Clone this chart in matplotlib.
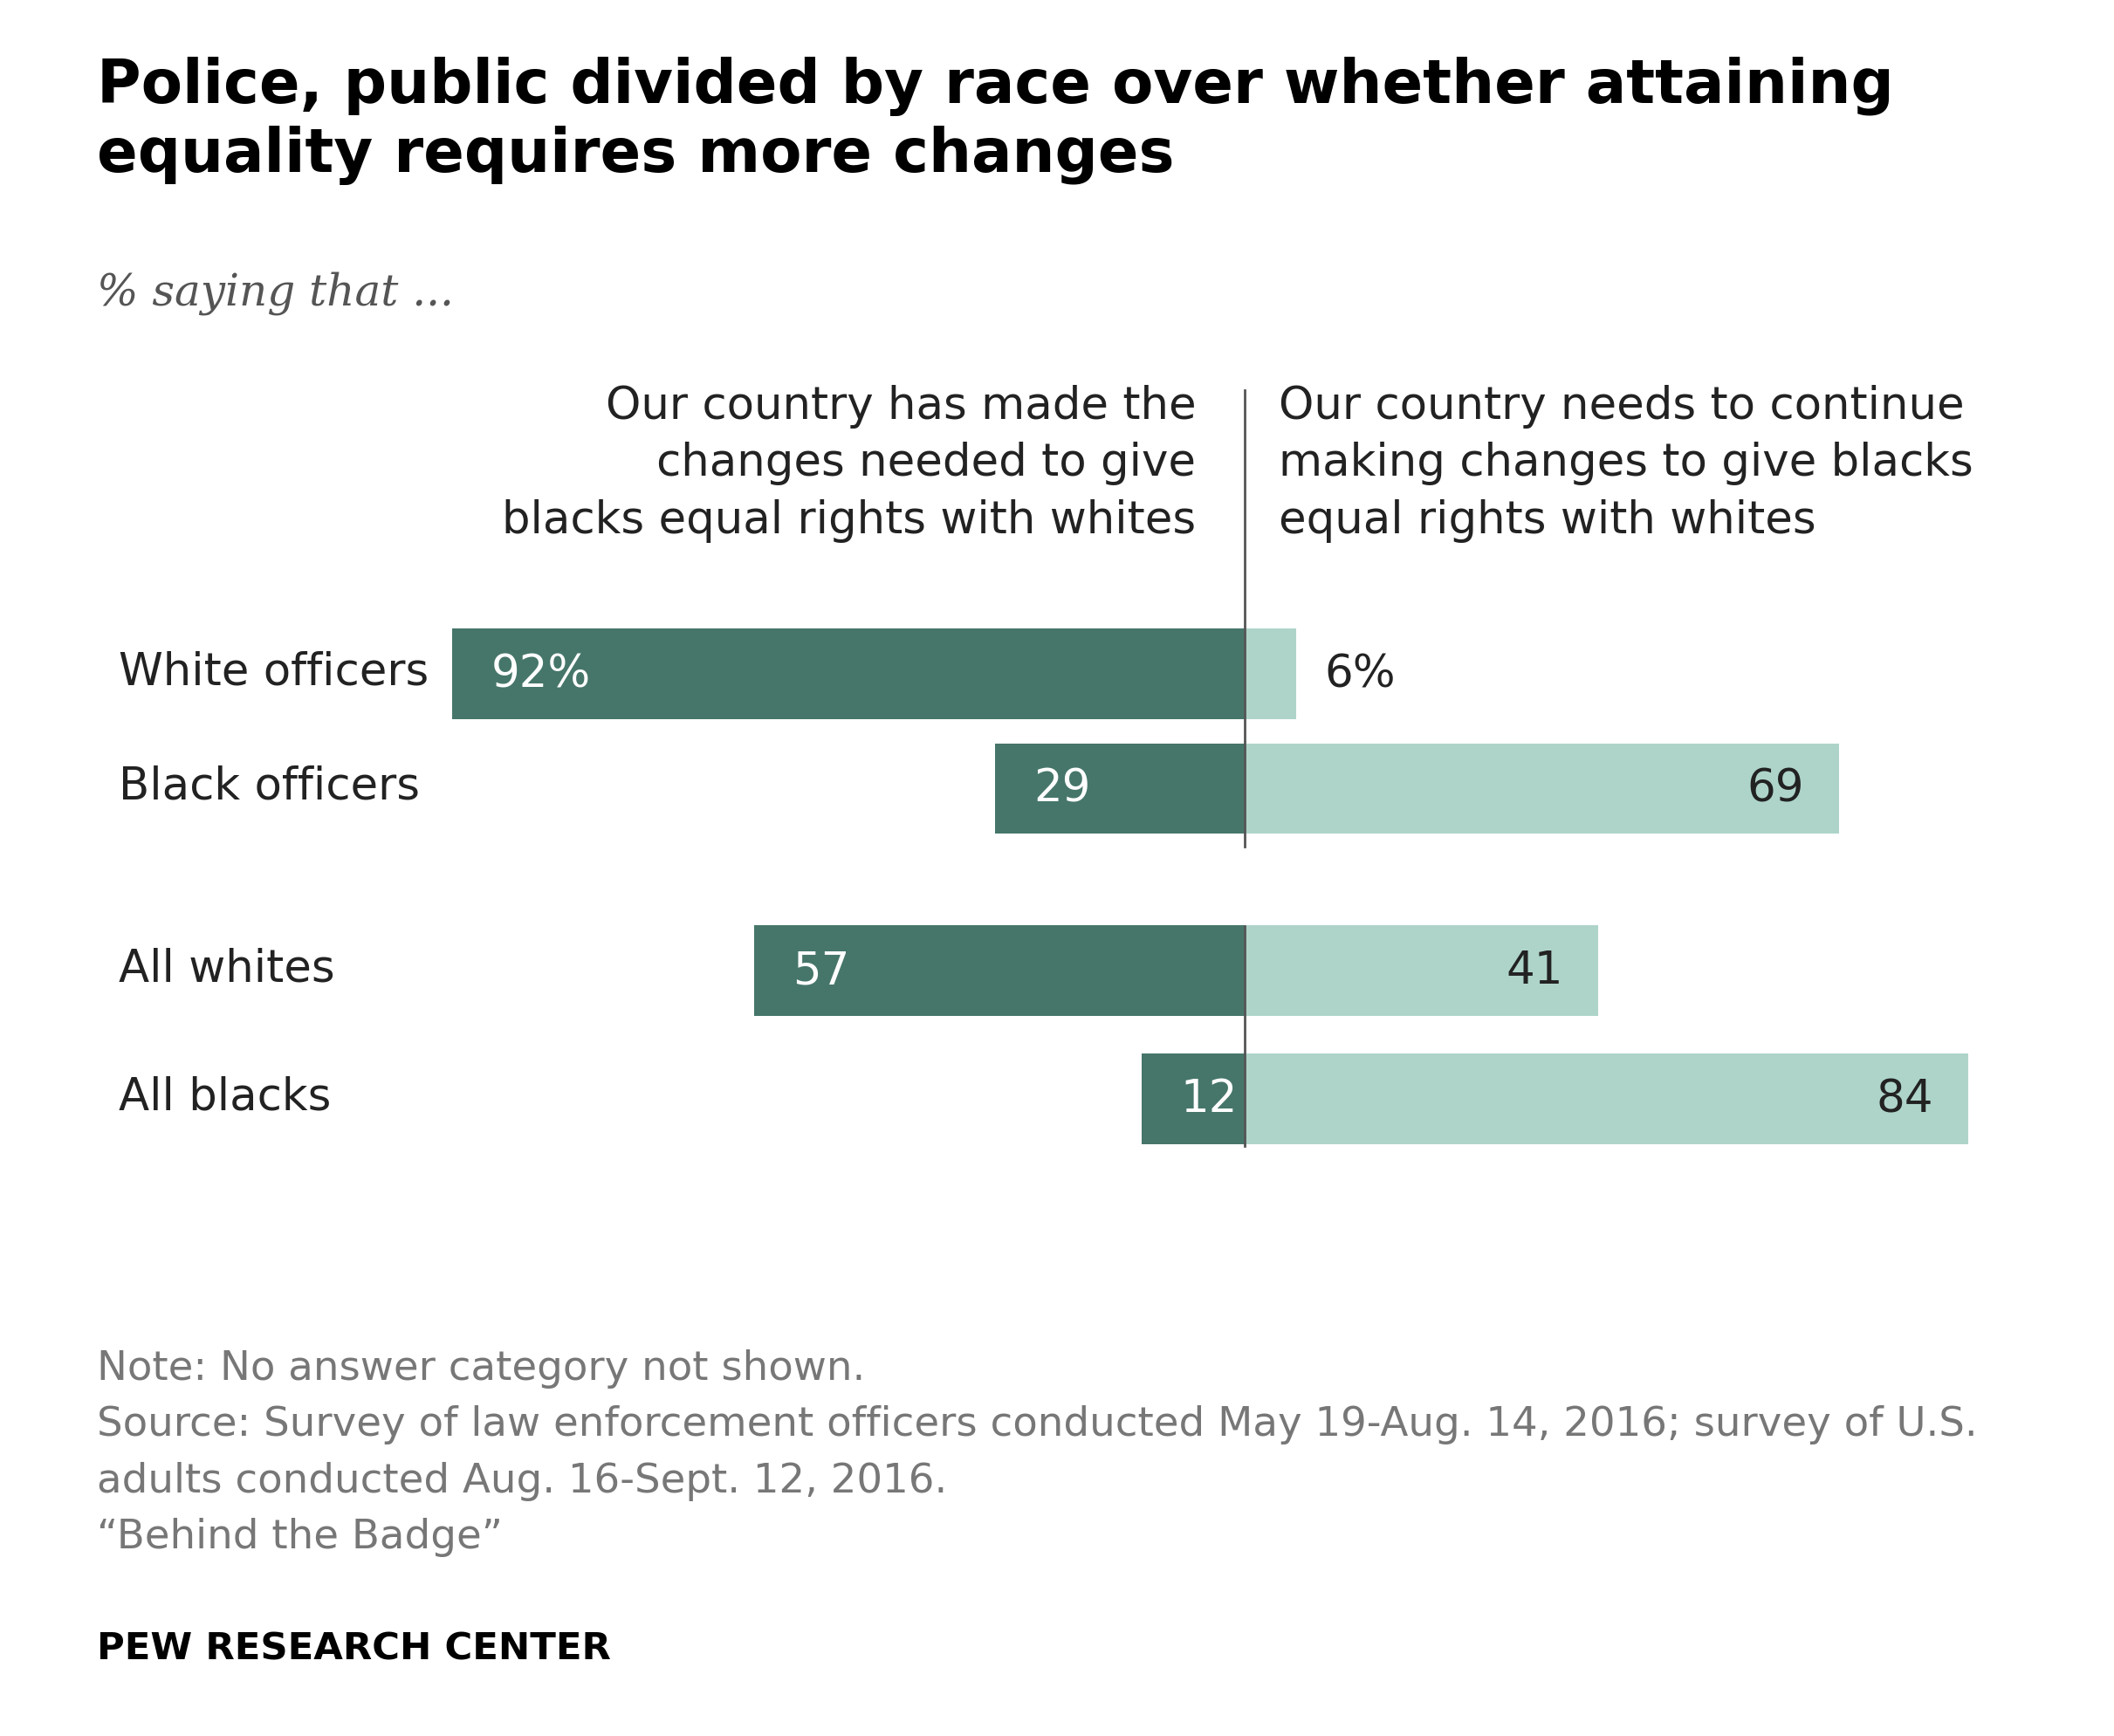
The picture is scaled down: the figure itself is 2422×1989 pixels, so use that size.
import matplotlib.pyplot as plt

groups = ["White officers", "Black officers", "All whites", "All blacks"]
made_changes = [92, 29, 57, 12]
need_changes = [6, 69, 41, 84]

DARK = "#46766a"
LIGHT = "#aed4ca"

W, H = 1566, 1287  # reference layout in display pixels
PX = 6.38          # display pixels per percentage point
X0 = 922           # centre line in display pixels

fig = plt.figure(figsize=(12.11, 9.95), dpi=200)
ax = fig.add_axes([0, 0, 1, 1])
ax.set_xlim(-X0 / PX, (W - X0) / PX)
ax.set_ylim(H, 0)
ax.axis("off")

ys = [500, 585, 720, 815]
ax.barh(ys, [-v for v in made_changes], height=67, color=DARK)
ax.barh(ys, need_changes, height=67, color=LIGHT)

for i, (y, a, b) in enumerate(zip(ys, made_changes, need_changes)):
    ax.text(-(X0 - 88) / PX, y - 2, groups[i], ha="left", va="center",
            fontsize=18.5, color="#222222")
    sa = f"{a}%" if i == 0 else str(a)
    sb = f"{b}%" if i == 0 else str(b)
    ax.text(-a + 4.5, y, sa, ha="left", va="center", fontsize=18.5, color="white")
    if b < 15:
        ax.text(b + 3.3, y, sb, ha="left", va="center", fontsize=18.5, color="#222222")
    else:
        ax.text(b - 4, y, sb, ha="right", va="center", fontsize=18.5, color="#222222")

ax.plot([0, 0], [290, 628], color="#555555", lw=1)
ax.plot([0, 0], [687, 850], color="#555555", lw=1)

ax.text(-36 / PX, 285, "Our country has made the\nchanges needed to give\nblacks equal rights with whites",
        ha="right", va="top", fontsize=18.5, color="#222222", linespacing=1.4)
ax.text(25 / PX, 285, "Our country needs to continue\nmaking changes to give blacks\nequal rights with whites",
        ha="left", va="top", fontsize=18.5, color="#222222", linespacing=1.4)

fig.text(72 / W, 1 - 42 / H, "Police, public divided by race over whether attaining\nequality requires more changes",
         ha="left", va="top", fontsize=24.8, fontweight="bold", color="black", linespacing=1.2)
fig.text(72 / W, 1 - 226 / H, "% saying that ...", ha="left", va="baseline",
         fontsize=18, style="italic", family="DejaVu Serif", color="#555555")

fig.text(72 / W, 1 - 1000 / H,
         "Note: No answer category not shown.\n"
         "Source: Survey of law enforcement officers conducted May 19-Aug. 14, 2016; survey of U.S.\n"
         "adults conducted Aug. 16-Sept. 12, 2016.\n"
         "\u201cBehind the Badge\u201d",
         ha="left", va="top", fontsize=16.8, color="#777777", linespacing=1.55)
fig.text(72 / W, 1 - 1230 / H, "PEW RESEARCH CENTER", ha="left", va="baseline",
         fontsize=15.6, fontweight="bold", color="black")

fig.savefig("out.png", dpi=200, facecolor="white")
